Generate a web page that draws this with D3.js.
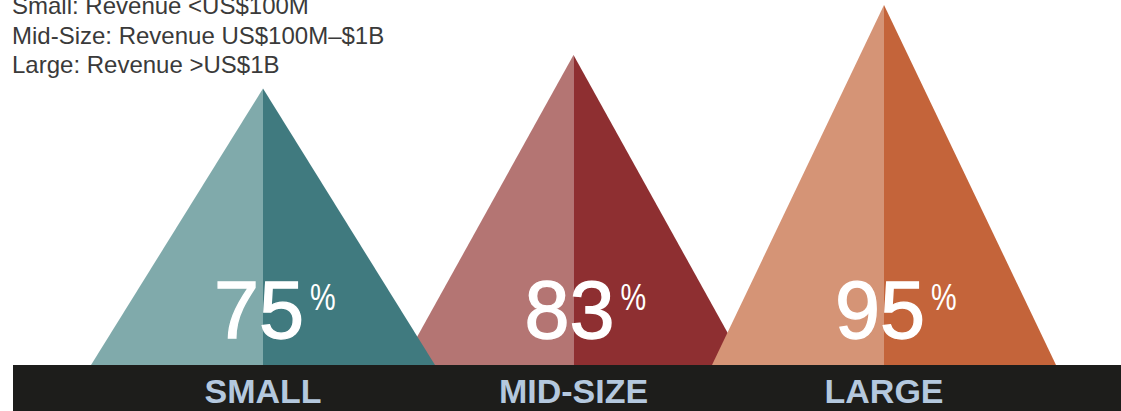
<!DOCTYPE html>
<html>
<head>
<meta charset="utf-8">
<script src="https://cdn.jsdelivr.net/npm/d3@7"></script>
<style>
  html, body { margin: 0; padding: 0; background: #ffffff; }
  svg { display: block; }
</style>
</head>
<body>
<svg id="chart" width="1121" height="411"></svg>
<script>
// ---- data ----
const categories = ["SMALL", "MID-SIZE", "LARGE"];
const values = [75, 83, 95];
const legendLines = [
  "Small: Revenue <US$100M",
  "Mid-Size: Revenue US$100M\u2013$1B",
  "Large: Revenue >US$1B"
];

// ---- styles ----
const lightColors = ["#80aaab", "#b47573", "#d59476"];
const darkColors  = ["#407a7f", "#8e2f31", "#c4643a"];
const drawOrder = [1, 0, 2];   // mid-size sits behind its neighbours

const W = 1121, H = 411;
const baseY = 365;
const svg = d3.select("#chart");

const x = d3.scalePoint().domain(categories).range([263, 884]);
const y = d3.scaleLinear().domain([0, 100]).range([402, -16]);
const halfW = 172;

// legend text
svg.append("g")
  .selectAll("text")
  .data(legendLines)
  .join("text")
  .attr("x", 12)
  .attr("y", (d, i) => 14 + i * 29.5)
  .attr("font-family", "'Helvetica Neue', Helvetica, 'Liberation Sans', Arial, sans-serif")
  .attr("font-size", 24)
  .attr("fill", "#3a3a3a")
  .text(d => d);

// triangles
const tri = svg.append("g");
drawOrder.forEach(i => {
  const cx = x(categories[i]);
  const top = y(values[i]);
  const g = tri.append("g");
  g.append("polygon")
    .attr("points", [[cx, top], [cx - halfW, baseY], [cx, baseY]].map(p => p.join(",")).join(" "))
    .attr("fill", lightColors[i]);
  g.append("polygon")
    .attr("points", [[cx, top], [cx + halfW, baseY], [cx, baseY]].map(p => p.join(",")).join(" "))
    .attr("fill", darkColors[i]);
});

// black base bar
svg.append("rect")
  .attr("x", 13).attr("y", baseY)
  .attr("width", W - 13).attr("height", H - baseY)
  .attr("fill", "#1d1d1b");

// category labels
svg.append("g")
  .selectAll("text")
  .data(categories)
  .join("text")
  .attr("x", d => x(d))
  .attr("y", 403)
  .attr("text-anchor", "middle")
  .attr("font-family", "'Helvetica Neue', Helvetica, 'Liberation Sans', Arial, sans-serif")
  .attr("font-weight", "bold")
  .attr("font-size", 34)
  .attr("fill", "#b4c8de")
  .text(d => d);

// percentage numbers
const nums = svg.append("g");
categories.forEach((c, i) => {
  const cx = x(c);
  nums.append("text")
    .attr("x", cx + 41)
    .attr("y", 338)
    .attr("text-anchor", "end")
    .attr("font-family", "'Helvetica Neue', Helvetica, 'Liberation Sans', Arial, sans-serif")
    .attr("font-size", 81)
    .attr("fill", "#ffffff")
    .attr("stroke", "#ffffff")
    .attr("stroke-width", 1.3)
    .text(values[i]);
  nums.append("text")
    .attr("transform", `translate(${cx + 47},310) scale(0.78,1)`)
    .attr("font-family", "'Helvetica Neue', Helvetica, 'Liberation Sans', Arial, sans-serif")
    .attr("font-size", 37)
    .attr("fill", "#ffffff")
    .text("%");
});
</script>
</body>
</html>
